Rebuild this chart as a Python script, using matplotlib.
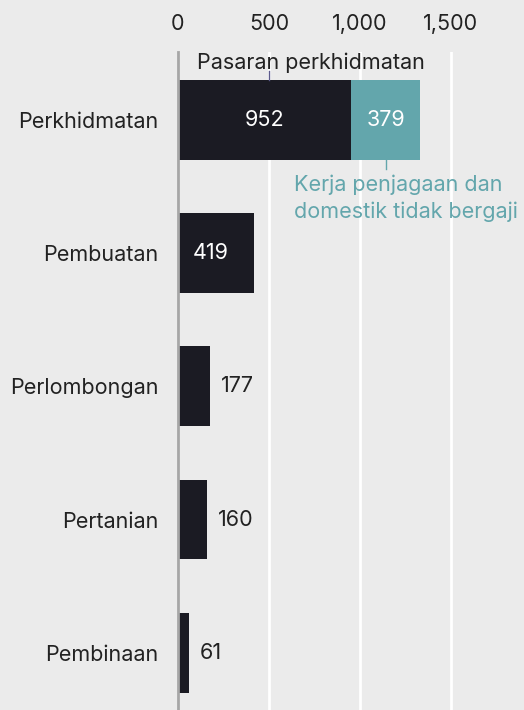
import matplotlib.pyplot as plt

# data
categories = ['Perkhidmatan', 'Pembuatan', 'Perlombongan', 'Pertanian', 'Pembinaan']
market = [952, 419, 177, 160, 61]
unpaid = [379, 0, 0, 0, 0]
ticks = [0, 500, 1000, 1500]
tick_labels = ['0', '500', '1,000', '1,500']

bg = '#ebebeb'
dark = '#1b1b23'
teal = '#63a6ac'
fs = 15.5

plt.rcParams['font.family'] = ['Inter', 'DejaVu Sans']

fig = plt.figure(figsize=(5.24, 7.10), dpi=100, facecolor=bg)
ax = fig.add_axes([178 / 524, 0, 346 / 524, (710 - 52) / 710])
ax.set_facecolor(bg)

y = list(range(len(categories)))
ax.barh(y, market, height=0.6, color=dark, zorder=3)
ax.barh(y, unpaid, left=market, height=0.6, color=teal, zorder=3)

ax.set_xlim(0, 346 / 0.182)
ax.set_ylim(4.43, -0.51)

# value labels
for i, v in enumerate(market):
    if v > 300:
        ax.text(v / 2 if v > 600 else v / 2 - 30, i, str(v), color='white',
                ha='center', va='center', fontsize=fs, zorder=4)
    else:
        ax.text(v + 60, i, str(v), color='#222222', ha='left', va='center',
                fontsize=fs, zorder=4)
ax.text(market[0] + unpaid[0] / 2, 0, str(unpaid[0]), color='white',
        ha='center', va='center', fontsize=fs, zorder=4)

# annotations
ax.plot([500, 500], [-0.3, -0.37], color='#5c5a8c', lw=1, zorder=4, clip_on=False)
ax.text(730, -0.35, 'Pasaran perkhidmatan', color='#222222', ha='center',
        va='bottom', fontsize=fs, zorder=4)
cx = market[0] + unpaid[0] / 2
ax.plot([cx, cx], [0.3, 0.37], color=teal, lw=1, zorder=4)
ax.text(640, 0.41, 'Kerja penjagaan dan\ndomestik tidak bergaji', color=teal,
        ha='left', va='top', fontsize=fs, linespacing=1.4, zorder=4)

# axes styling
ax.set_xticks(ticks)
ax.set_xticklabels(tick_labels, fontsize=fs, color='#222222')
ax.xaxis.tick_top()
ax.tick_params(axis='x', length=0, pad=13)
ax.set_yticks(y)
ax.set_yticklabels(categories, fontsize=fs, color='#222222')
ax.tick_params(axis='y', length=0, pad=14)
ax.grid(axis='x', color='white', lw=2, zorder=1)
for s in ['top', 'right', 'bottom']:
    ax.spines[s].set_visible(False)
ax.spines['left'].set_color('#a6a6a6')
ax.spines['left'].set_linewidth(2)
ax.spines['left'].set_zorder(5)

fig.savefig('out.png', dpi=100, facecolor=bg)
